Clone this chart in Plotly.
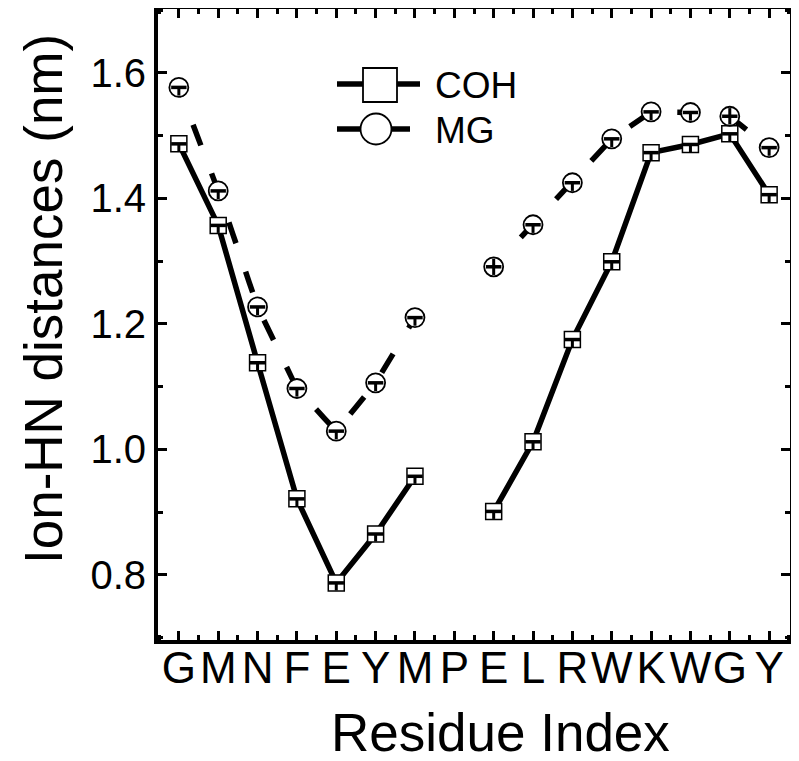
import plotly.graph_objects as go

residues = ["G", "M", "N", "F", "E", "Y", "M", "P", "E", "L", "R", "W", "K", "W", "G", "Y"]
coh = [1.487, 1.357, 1.138, 0.921, 0.787, 0.865, 0.957, None, 0.901, 1.012, 1.175, 1.299, 1.473, 1.486, 1.503, 1.406]
mg = [1.577, 1.412, 1.227, 1.097, 1.029, 1.106, 1.210, None, 1.291, 1.358, 1.425, 1.495, 1.538, 1.537, 1.531, 1.481]
coh_err_up = [0, 0, 0, 0, 0, 0, 0, None, 0, 0, 0, 0, 0, 0, 0, 0]
coh_err_dn = [0.012] * 7 + [None] + [0.012] * 8
mg_err_up = [0, 0, 0, 0, 0, 0, 0, None, 0.013, 0, 0, 0, 0, 0, 0.013, 0]
mg_err_dn = [0.013] * 7 + [None] + [0.013] * 8
y_ticks = [0.8, 1.0, 1.2, 1.4, 1.6]
y_ticklabels = ["0.8", "1.0", "1.2", "1.4", "1.6"]

x = list(range(len(residues)))
FONT = "Arial, Liberation Sans, sans-serif"

fig = go.Figure()
fig.add_trace(go.Scatter(
    x=x, y=coh, mode="lines+markers", name="COH", connectgaps=False,
    line=dict(color="black", width=5.5),
    marker=dict(symbol="square", size=16, color="white", line=dict(color="black", width=1.5)),
))
fig.add_trace(go.Scatter(
    x=x, y=mg, mode="lines+markers", name="MG", connectgaps=False,
    line=dict(color="black", width=5.5, dash="10px,30px,12px,0px"),
    marker=dict(symbol="circle", size=19, color="white", line=dict(color="black", width=1.8)),
))
for ys, up, dn in [(coh, coh_err_up, coh_err_dn), (mg, mg_err_up, mg_err_dn)]:
    fig.add_trace(go.Scatter(
        x=x, y=ys, mode="markers", showlegend=False,
        marker=dict(symbol="line-ew", size=11, color="black", line=dict(color="black", width=3.5)),
        error_y=dict(type="data", symmetric=False, array=up, arrayminus=dn,
                     thickness=3, width=0, color="black"),
    ))

# page body has an 8px margin; the figure is sized so the plot area lands at
# page pixels x 158..790, y 9..640
OFF = 8
W, H = 799 - OFF, 761 - OFF
L, R, T, B = 158, 790, 9, 640   # page pixels
def px(v):
    return (v - L) / (R - L)
def py(v):
    return (B - v) / (B - T)

shapes = [
    dict(type="line", xref="paper", yref="paper", x0=px(337), x1=px(420), y0=py(84), y1=py(84),
         line=dict(color="black", width=5.5)),
    dict(type="rect", xref="paper", yref="paper", x0=px(363), x1=px(397), y0=py(102), y1=py(68),
         fillcolor="white", line=dict(color="black", width=1.8)),
    dict(type="line", xref="paper", yref="paper", x0=px(337), x1=px(410), y0=py(129), y1=py(129),
         line=dict(color="black", width=5.5)),
    dict(type="circle", xref="paper", yref="paper", x0=px(360.5), x1=px(391.5), y0=py(144.5), y1=py(113.5),
         fillcolor="white", line=dict(color="black", width=1.8)),
]
annotations = [
    dict(text="COH", xref="paper", yref="paper", x=px(433), y=py(85), xanchor="left", yanchor="middle",
         showarrow=False, font=dict(size=37, color="black", family=FONT)),
    dict(text="MG", xref="paper", yref="paper", x=px(433), y=py(130), xanchor="left", yanchor="middle",
         showarrow=False, font=dict(size=37, color="black", family=FONT)),
    dict(text="Ion-HN distances (nm)", xref="paper", yref="paper", x=px(43), y=py(299),
         xanchor="center", yanchor="middle", textangle=-90, showarrow=False,
         font=dict(size=53, color="black", family=FONT)),
    dict(text="Residue Index", xref="paper", yref="paper", x=px(500), y=py(732),
         xanchor="center", yanchor="middle", showarrow=False,
         font=dict(size=53, color="black", family=FONT)),
]

fig.update_layout(
    width=W, height=H,
    margin=dict(l=L - OFF, r=W - (R - OFF), t=T - OFF, b=H - (B - OFF), pad=0, autoexpand=False),
    paper_bgcolor="white", plot_bgcolor="white",
    showlegend=False,
    font=dict(family=FONT, color="black"),
    shapes=shapes, annotations=annotations,
    xaxis=dict(
        range=[-0.53, 15.53], tickmode="array", tickvals=x, ticktext=residues, tickangle=0,
        showline=True, linewidth=4, linecolor="black", mirror="allticks",
        ticks="inside", ticklen=9, tickwidth=3, tickcolor="black", ticklabelstandoff=-14,
        minor=dict(tickmode="linear", tick0=0.5, dtick=1, ticks="inside", ticklen=5, tickwidth=3, tickcolor="black"),
        showgrid=False, zeroline=False, automargin=False,
        tickfont=dict(size=44, family=FONT),
    ),
    yaxis=dict(
        range=[0.696, 1.702], tickmode="array", tickvals=y_ticks, ticktext=y_ticklabels,
        showline=True, linewidth=4, linecolor="black", mirror="allticks",
        ticks="inside", ticklen=9, tickwidth=3, tickcolor="black",
        minor=dict(tickmode="array", tickvals=[0.7, 0.9, 1.1, 1.3, 1.5, 1.7], ticks="inside", ticklen=5, tickwidth=3, tickcolor="black"),
        showgrid=False, zeroline=False, automargin=False,
        tickfont=dict(size=40, family=FONT),
    ),
)

fig.write_html("out.html")
